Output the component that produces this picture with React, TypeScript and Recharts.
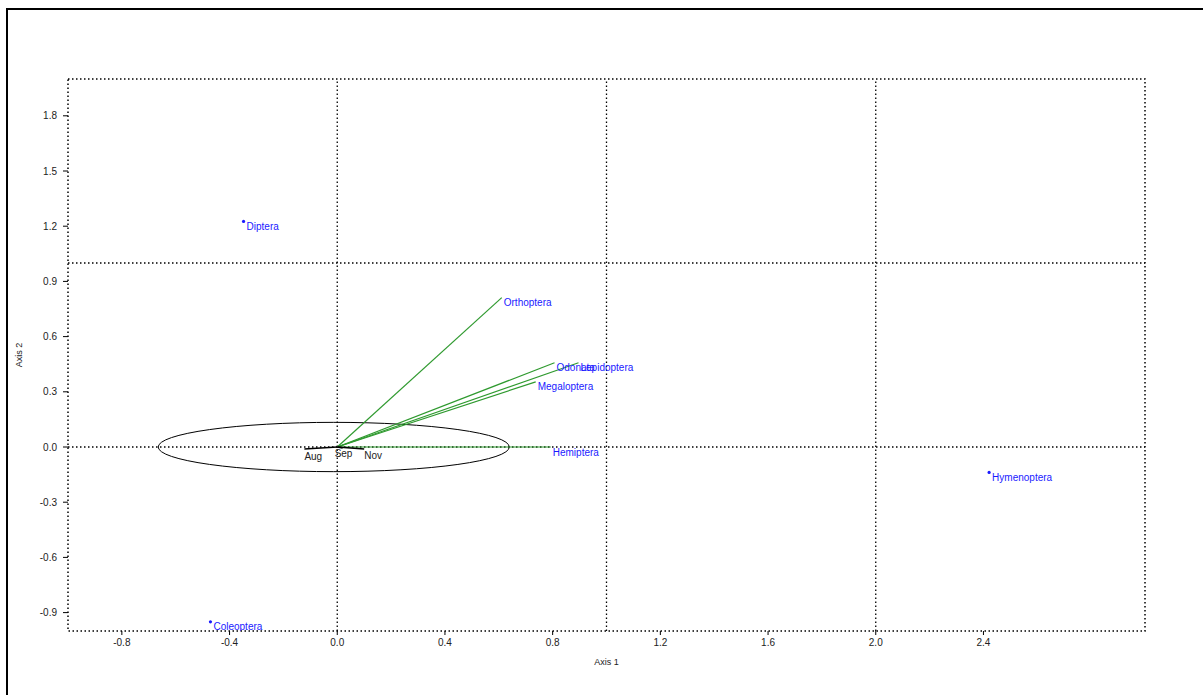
import React from 'react';
import {
  ScatterChart,
  Scatter,
  XAxis,
  YAxis,
  ReferenceArea,
} from 'recharts';

// Taxa plotted as points
const speciesNames = ['Diptera', 'Coleoptera', 'Hymenoptera'];
const speciesX = [-0.348, -0.471, 2.421];
const speciesY = [1.226, -0.95, -0.138];

// Taxa plotted as vectors from the origin
const vectorNames = ['Orthoptera', 'Odonata', 'Lepidoptera', 'Megaloptera', 'Hemiptera'];
const vectorX = [0.611, 0.807, 0.896, 0.737, 0.793];
const vectorY = [0.812, 0.458, 0.458, 0.354, 0.0];

// Month vectors
const monthNames = ['Aug', 'Sep', 'Nov'];
const monthX = [-0.122, 0.02, 0.1];
const monthY = [-0.011, -0.006, -0.011];

// Confidence ellipse: centre and semi-axes
const ellipseCenter = [-0.013, 0.0];
const ellipseRadii = [0.652, 0.134];

const xTicks = [-0.8, -0.4, 0, 0.4, 0.8, 1.2, 1.6, 2.0, 2.4];
const yTicks = [-0.9, -0.6, -0.3, 0, 0.3, 0.6, 0.9, 1.2, 1.5, 1.8];
const xDomain = [-1, 3];
const yDomain = [-1, 2];
const gridX = [0, 1, 2];
const gridY = [0, 1];

const origin = { x: 0, y: 0 };
const speciesData = speciesNames.map((name, i) => ({ name, x: speciesX[i], y: speciesY[i] }));
const vectorData = vectorNames.map((name, i) => ({ name, x: vectorX[i], y: vectorY[i] }));
const monthData = monthNames.map((name, i) => ({ name, x: monthX[i], y: monthY[i] }));

// grid lines as two-point segments spanning the plot
const gridSegments = [
  ...gridX.map((v) => [{ x: v, y: yDomain[0] }, { x: v, y: yDomain[1] }]),
  ...gridY.map((v) => [{ x: xDomain[0], y: v }, { x: xDomain[1], y: v }]),
];

const FONT = '"Liberation Sans", Arial, sans-serif';
const BLUE = '#1a1aff';
const GREEN = '#2f9a2f';

const monthLabelOffset: Record<string, [number, number]> = {
  Aug: [0, 7],
  Sep: [-8, 5],
  Nov: [0, 6],
};

const NoMark = () => <g />;

const SpeciesShape = (p: any) => (
  <g>
    <circle cx={p.cx} cy={p.cy} r={1.6} fill={BLUE} />
    <text
      x={p.cx + 3}
      y={p.cy + 5}
      dominantBaseline="central"
      fontFamily={FONT}
      fontSize={10}
      fill={BLUE}
    >
      {p.payload.name}
    </text>
  </g>
);

const VectorLabel = (p: any) => (
  <text
    x={p.cx + 2}
    y={p.cy + 5}
    dominantBaseline="central"
    fontFamily={FONT}
    fontSize={10}
    fill={BLUE}
  >
    {p.payload.name}
  </text>
);

const MonthLabel = (p: any) => {
  const [dx, dy] = monthLabelOffset[p.payload.name] || [0, 6];
  return (
    <text
      x={p.cx + dx}
      y={p.cy + dy}
      dominantBaseline="central"
      fontFamily={FONT}
      fontSize={10}
      fill="#222"
    >
      {p.payload.name}
    </text>
  );
};

const EllipseShape = (p: any) => (
  <ellipse
    cx={p.x + p.width / 2}
    cy={p.y + p.height / 2}
    rx={p.width / 2}
    ry={p.height / 2}
    fill="none"
    stroke="#000"
    strokeWidth={1}
  />
);

const XTitle = (p: any) => {
  const vb = p.viewBox;
  return (
    <text
      x={vb.x + vb.width / 2}
      y={vb.y + 31}
      textAnchor="middle"
      dominantBaseline="central"
      fontFamily={FONT}
      fontSize={9}
      fill="#222"
    >
      Axis 1
    </text>
  );
};

const YTitle = (p: any) => {
  const vb = p.viewBox;
  const cx = vb.x + 19;
  const cy = vb.y + vb.height / 2;
  return (
    <text
      x={cx}
      y={cy}
      textAnchor="middle"
      dominantBaseline="central"
      transform={`rotate(-90 ${cx} ${cy})`}
      fontFamily={FONT}
      fontSize={9}
      fill="#222"
    >
      Axis 2
    </text>
  );
};

export default function App() {
  const tickStyle = { fontSize: 10, fill: '#222', fontFamily: FONT };
  return (
    <div
      style={{
        position: 'absolute',
        left: 0,
        top: 0,
        width: 1203,
        height: 695,
        background: '#fff',
        overflow: 'hidden',
      }}
    >
      <div
        style={{
          position: 'absolute',
          left: 6,
          top: 8,
          width: 1300,
          height: 800,
          borderLeft: '2px solid #000',
          borderTop: '2px solid #000',
        }}
      />
      <div style={{ position: 'absolute', left: 0, top: 0 }}>
        <ScatterChart
          width={1203}
          height={695}
          margin={{ top: 79, right: 58, bottom: 0, left: 0 }}
        >
          <XAxis
            type="number"
            dataKey="x"
            domain={xDomain}
            ticks={xTicks}
            allowDataOverflow
            tickFormatter={(v: number) => v.toFixed(1)}
            tick={tickStyle}
            tickSize={4}
            tickMargin={4}
            tickLine={{ stroke: '#000', strokeWidth: 1 }}
            axisLine={false}
            height={64}
            label={{ content: XTitle }}
          />
          <YAxis
            type="number"
            dataKey="y"
            domain={yDomain}
            ticks={yTicks}
            allowDataOverflow
            tickFormatter={(v: number) => v.toFixed(1)}
            tick={tickStyle}
            tickSize={5}
            tickMargin={6}
            tickLine={{ stroke: '#000', strokeWidth: 1 }}
            axisLine={false}
            width={68}
            label={{ content: YTitle }}
          />

          <ReferenceArea
            x1={xDomain[0]}
            x2={xDomain[1]}
            y1={yDomain[0]}
            y2={yDomain[1]}
            fill="none"
            fillOpacity={0}
            stroke="#000"
            strokeWidth={1.5}
            strokeDasharray="1.5 2.5"
            ifOverflow="visible"
          />

          <ReferenceArea
            x1={ellipseCenter[0] - ellipseRadii[0]}
            x2={ellipseCenter[0] + ellipseRadii[0]}
            y1={ellipseCenter[1] - ellipseRadii[1]}
            y2={ellipseCenter[1] + ellipseRadii[1]}
            shape={EllipseShape}
            ifOverflow="visible"
          />

          {/* dotted grid at whole units */}
          {gridSegments.map((seg, i) => (
            <Scatter
              key={`g${i}`}
              data={seg}
              line={{ stroke: '#000', strokeWidth: 1.3, strokeDasharray: '1.5 2.5' }}
              lineType="joint"
              shape={NoMark}
              isAnimationActive={false}
            />
          ))}

          {/* vectors from the origin */}
          {vectorData.map((d) => (
            <Scatter
              key={`v${d.name}`}
              data={[origin, { x: d.x, y: d.y }]}
              line={{ stroke: GREEN, strokeWidth: 1.2 }}
              lineType="joint"
              shape={NoMark}
              isAnimationActive={false}
            />
          ))}
          {monthData.map((d) => (
            <Scatter
              key={`m${d.name}`}
              data={[origin, { x: d.x, y: d.y }]}
              line={{ stroke: '#000', strokeWidth: 1.5 }}
              lineType="joint"
              shape={NoMark}
              isAnimationActive={false}
            />
          ))}

          <Scatter data={vectorData} shape={VectorLabel} isAnimationActive={false} />
          <Scatter data={monthData} shape={MonthLabel} isAnimationActive={false} />
          <Scatter data={speciesData} shape={SpeciesShape} isAnimationActive={false} />
        </ScatterChart>
      </div>
    </div>
  );
}
